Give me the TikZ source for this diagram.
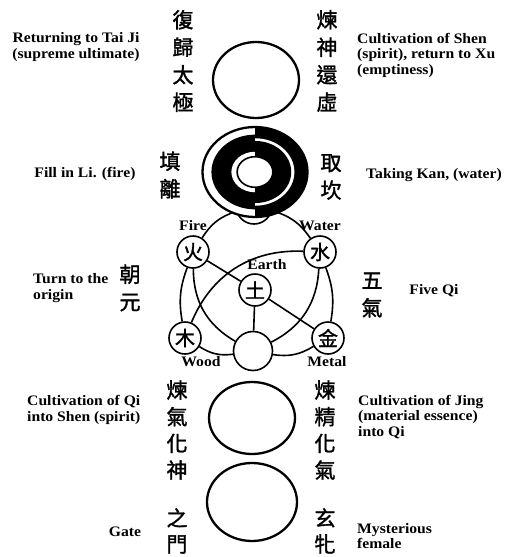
\documentclass[tikz,border=0pt]{standalone}
\usepackage{fontspec}
\setmainfont{Liberation Serif}[FakeStretch=1.08]
\newfontfamily\cjk{Noto Sans CJK TC}[FakeBold=1.5]
\usetikzlibrary{positioning,shapes.geometric}

\begin{document}
\begin{tikzpicture}[x=1pt, y=-1pt,
  stage/.style={ellipse, draw, line width=2.3pt, inner sep=0pt},
  phase/.style={circle, draw, line width=1.6pt, fill=white, minimum size=32pt,
                inner sep=0pt, font=\cjk\fontsize{20}{20}\selectfont},
  col/.style={font=\cjk\fontsize{21}{27.5}\selectfont, align=center, inner sep=0pt},
  lbl/.style={font=\bfseries\fontsize{14.5}{15.5}\selectfont, align=left, inner sep=0pt},
  link/.style={line width=1.6pt},
]
  \fill[white] (0,0) rectangle (505,557);
  \useasboundingbox (0,0) rectangle (505,557);

  % top: return to Tai Ji
  \node[stage, minimum width=86pt, minimum height=76pt] (taiji) at (256,80) {};
  \node[col] (fuGui) at (183,61) {復\\歸\\太\\極};
  \node[col] (lianShen) at (327,61) {煉\\神\\還\\虛};
  \node[lbl, align=center] (retTaiji) at (76,47) {Returning to Tai Ji\\(supreme ultimate)};
  \node[lbl, anchor=west] (cultShen) at (357,55) {Cultivation of Shen\\(spirit), return to Xu\\(emptiness)};

  % five qi
  \node[phase, minimum size=36pt] (top) at (254,206) {};
  \node[phase] (fire) at (193,252) {火};
  \node[phase] (water) at (320,252) {水};
  \node[phase] (earth) at (255,290) {土};
  \node[phase] (wood) at (185,338) {木};
  \node[phase] (metal) at (328,338) {金};
  \node[phase, minimum size=39pt] (origin) at (253,351) {};

  \node[lbl, above=4pt of fire] (fireLbl) {Fire};
  \node[lbl, above=4pt of water] (waterLbl) {Water};
  \node[lbl] (earthLbl) at (267,265) {Earth};
  \node[lbl] (woodLbl) at (201,362) {Wood};
  \node[lbl] (metalLbl) at (327,362) {Metal};

  \draw[link] (top) to[bend right=20] (fire);
  \draw[link] (fire) to[bend right=15] (wood);
  \draw[link] (wood) to[bend right=20] (origin);
  \draw[link] (origin) to[bend right=20] (metal);
  \draw[link] (metal) to[bend right=15] (water);
  \draw[link] (water) to[bend right=20] (top);
  \draw[link] (fire) to[bend right=30] (origin);
  \draw[link] (water) to[bend left=30] (origin);
  \draw[link] (water) to[bend right=35] (wood);
  \draw[link] (fire) -- (earth);
  \draw[link] (earth) -- (metal);
  \draw[link] (earth) -- (origin);

  \node[col] (chaoYuan) at (130,288) {朝\\元};
  \node[col] (wuQi) at (372,295) {五\\氣};
  \node[lbl, anchor=west] (turnOrigin) at (33,288) {Turn to the\\origin};
  \node[lbl] (fiveQi) at (434,291) {Five Qi};

  % kan and li
  \begin{scope}[shift={(255,172)}, xscale=52.5, yscale=45]
    \begin{scope}
      \clip (-1.2,-1.2) rectangle (0,1.2);
      \fill[white] (0,0) circle (1);
      \fill (0,0) circle (0.83);
      \fill[white] (0,0) circle (0.45);
    \end{scope}
    \begin{scope}
      \clip (0,-1.2) rectangle (1.2,1.2);
      \fill (0,0) circle (1);
      \fill[white] (0,0) circle (0.75);
      \fill (0,0) circle (0.69);
    \end{scope}
    \draw[line width=2.3pt] (0,0) circle (1);
    \draw[line width=1.6pt, fill=white] (0,0) circle (0.34);
  \end{scope}
  \node[col] (tianLi) at (170,175) {填\\離};
  \node[col] (quKan) at (331,177) {取\\坎};
  \node[lbl] (fillLi) at (85,174) {Fill in Li. (fire)};
  \node[lbl, anchor=east] (takeKan) at (502,175) {Taking Kan, (water)};

  % lower stages
  \node[stage, minimum width=86pt, minimum height=72pt] (qiShen) at (252,418) {};
  \node[stage, minimum width=90pt, minimum height=78pt] (xuanPin) at (252,502) {};
  \node[col, font=\cjk\fontsize{21}{26.7}\selectfont] (lianQi) at (177,430) {煉\\氣\\化\\神};
  \node[col, font=\cjk\fontsize{21}{26.7}\selectfont] (lianJing) at (325,430) {煉\\精\\化\\氣};
  \node[col, font=\cjk\fontsize{21}{26}\selectfont] (zhiMen) at (177,531) {之\\門};
  \node[col, font=\cjk\fontsize{21}{26}\selectfont] (xuanPinCol) at (325,531) {玄\\牝};
  \node[lbl, anchor=west] (cultQi) at (27,410) {Cultivation of Qi\\into Shen (spirit)};
  \node[lbl, anchor=west] (cultJing) at (358,417) {Cultivation of Jing\\(material essence)\\into Qi};
  \node[lbl] (gate) at (125,532) {Gate};
  \node[lbl, anchor=west] (mysterious) at (357,536) {Mysterious\\female};
\end{tikzpicture}
\end{document}
